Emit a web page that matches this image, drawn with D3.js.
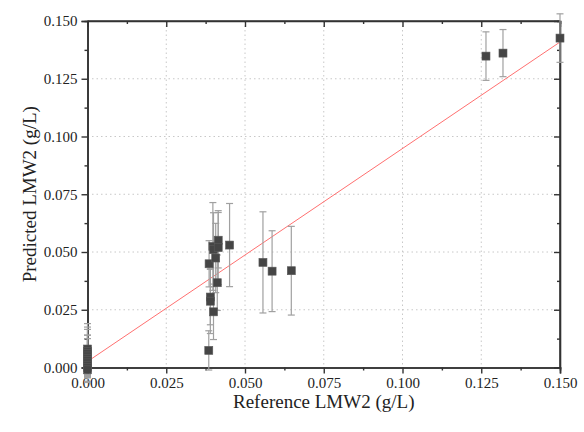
<!DOCTYPE html>
<html><head><meta charset="utf-8">
<script src="https://cdn.jsdelivr.net/npm/d3@7"></script>
<style>body{margin:0;background:#fff}svg{display:block}</style>
</head><body>
<svg id="c" width="584" height="432"></svg>
<script>
// Data: reference (x), predicted (y), error (±)
const refX = [0.1265, 0.1319, 0.1500,
  0.0557, 0.0586, 0.0647,
  0.0385, 0.0390, 0.0390, 0.0400, 0.0386, 0.0398, 0.0400, 0.0407, 0.0412, 0.0415, 0.0415, 0.0451,
  0.0000, 0.0000, 0.0000, 0.0000, 0.0000, 0.0000, 0.0000, 0.0000, 0.0000, 0.0000];
const predY = [0.1348, 0.1361, 0.1426,
  0.0455, 0.0417, 0.0419,
  0.0074, 0.0305, 0.0287, 0.0241, 0.0449, 0.0524, 0.0510, 0.0474, 0.0367, 0.0551, 0.0519, 0.0530,
  0.0080, 0.0070, 0.0060, 0.0050, 0.0040, 0.0030, 0.0020, 0.0010, 0.0000, -0.0010];
const errY = [0.0105, 0.0102, 0.0105,
  0.0219, 0.0175, 0.0192,
  0.0085, 0.0120, 0.0140, 0.0120, 0.0100, 0.0190, 0.0160, 0.0150, 0.0120, 0.0120, 0.0160, 0.0180,
  0.0110, 0.0105, 0.0105, 0.0090, 0.0100, 0.0095, 0.0060, 0.0050, 0.0040, 0.0030];
const fitIntercept = 0.0026, fitSlope = 0.922;
const xTicks = [0, 0.025, 0.05, 0.075, 0.1, 0.125, 0.15];
const yTicks = [0, 0.025, 0.05, 0.075, 0.1, 0.125, 0.15];
const xTitle = "Reference LMW2 (g/L)";
const yTitle = "Predicted LMW2 (g/L)";

const svg = d3.select("#c");
const L = 87.5, R = 560, T = 21, B = 367.5;
const x = d3.scaleLinear().domain([0, 0.15]).range([L, R]);
const y = d3.scaleLinear().domain([0, 0.15]).range([B, T]);
const font = "'Liberation Serif','DejaVu Serif',serif";
const minor = d3.range(0.0125, 0.15, 0.025);

// grid
const g = svg.append("g");
g.selectAll("line.gx").data(xTicks.slice(1, -1)).join("line")
  .attr("x1", d => x(d)).attr("x2", d => x(d)).attr("y1", T).attr("y2", B)
  .attr("stroke", "#c8c8c8").attr("stroke-width", 1).attr("stroke-dasharray", "1.5,3");
g.selectAll("line.gy").data(yTicks.slice(1, -1)).join("line")
  .attr("y1", d => y(d)).attr("y2", d => y(d)).attr("x1", L).attr("x2", R)
  .attr("stroke", "#c8c8c8").attr("stroke-width", 1).attr("stroke-dasharray", "1.5,3");

// fit line
svg.append("line")
  .attr("x1", x(0)).attr("y1", y(fitIntercept))
  .attr("x2", x(0.15)).attr("y2", y(fitIntercept + fitSlope * 0.15))
  .attr("stroke", "#ff7070").attr("stroke-width", 1);

// axes
const fmt = d3.format(".3f");
const axB = svg.append("g").attr("transform", `translate(0,${B})`)
  .call(d3.axisBottom(x).tickValues(xTicks).tickFormat(fmt).tickSize(6).tickPadding(4));
const axL = svg.append("g").attr("transform", `translate(${L},0)`)
  .call(d3.axisLeft(y).tickValues(yTicks).tickFormat(fmt).tickSize(6).tickPadding(4));
const axT = svg.append("g").attr("transform", `translate(0,${T})`)
  .call(d3.axisBottom(x).tickValues(xTicks).tickFormat("").tickSize(6));
const axR = svg.append("g").attr("transform", `translate(${R},0)`)
  .call(d3.axisLeft(y).tickValues(yTicks).tickFormat("").tickSize(6));
// minor ticks
svg.append("g").attr("transform", `translate(0,${B})`)
  .call(d3.axisBottom(x).tickValues(minor).tickFormat("").tickSize(3));
svg.append("g").attr("transform", `translate(${L},0)`)
  .call(d3.axisLeft(y).tickValues(minor).tickFormat("").tickSize(3));
svg.append("g").attr("transform", `translate(0,${T})`)
  .call(d3.axisBottom(x).tickValues(minor).tickFormat("").tickSize(3));
svg.append("g").attr("transform", `translate(${R},0)`)
  .call(d3.axisLeft(y).tickValues(minor).tickFormat("").tickSize(3));
svg.selectAll(".domain").attr("stroke", "#333").attr("stroke-width", 1.6);
svg.selectAll(".tick line").attr("stroke", "#333").attr("stroke-width", 1.4);
svg.selectAll(".tick text").attr("font-family", font).attr("font-size", 15).attr("fill", "#222");
[axT, axR].forEach(a => a.select(".domain").attr("d", null));
axT.select(".domain").remove(); axR.select(".domain").remove();
svg.append("line").attr("x1", L).attr("x2", R).attr("y1", T).attr("y2", T).attr("stroke", "#333").attr("stroke-width", 1.6);
svg.append("line").attr("x1", R).attr("x2", R).attr("y1", T).attr("y2", B).attr("stroke", "#333").attr("stroke-width", 1.6);

// error bars + points
const data = refX.map((v, i) => ({x: v, y: predY[i], e: errY[i]}));
const eb = svg.append("g").attr("stroke", "#a0a0a0").attr("stroke-width", 1.2);
data.forEach(d => {
  const cx = x(d.x);
  eb.append("line").attr("x1", cx).attr("x2", cx).attr("y1", y(d.y + d.e)).attr("y2", y(d.y - d.e));
  eb.append("line").attr("x1", cx - 3.5).attr("x2", cx + 3.5).attr("y1", y(d.y + d.e)).attr("y2", y(d.y + d.e));
  eb.append("line").attr("x1", cx - 3.5).attr("x2", cx + 3.5).attr("y1", y(d.y - d.e)).attr("y2", y(d.y - d.e));
});
svg.append("g").selectAll("rect").data(data).join("rect")
  .attr("x", d => x(d.x) - 4).attr("y", d => y(d.y) - 4)
  .attr("width", 8).attr("height", 8)
  .attr("fill", "#454545").attr("stroke", "#5a5a5a").attr("stroke-width", 0.6);

// titles
svg.append("text").attr("x", (L + R) / 2).attr("y", 408).attr("text-anchor", "middle")
  .attr("font-family", font).attr("font-size", 19).attr("fill", "#222").text(xTitle);
svg.append("text").attr("transform", `translate(36,${(T + B) / 2}) rotate(-90)`).attr("text-anchor", "middle")
  .attr("font-family", font).attr("font-size", 19).attr("fill", "#222").text(yTitle);
</script>
</body></html>
